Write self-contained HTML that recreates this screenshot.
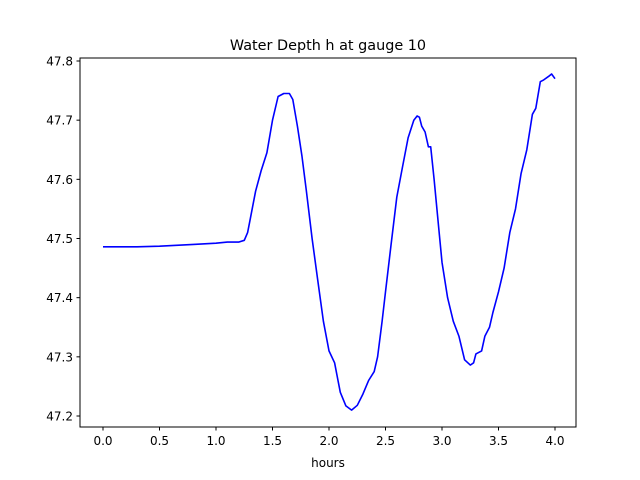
<!DOCTYPE html>
<html><head><meta charset="utf-8"><style>
body{margin:0;background:#fff;}
svg{display:block;font-family:"DejaVu Sans","Liberation Sans",sans-serif;}
</style></head><body>
<svg id="chart" width="640" height="480" viewBox="0 0 640 480" xmlns="http://www.w3.org/2000/svg">
<rect width="640" height="480" fill="#fff"/>
<text x="328" y="50" text-anchor="middle" font-size="14.4">Water Depth h at gauge 10</text>
<g id="ticks"></g>
<path id="line" fill="none" stroke="#0000ff" stroke-width="1.6" stroke-linejoin="round"/>
<rect x="80" y="58" width="496" height="369" fill="none" stroke="#000" stroke-width="1"/>
<text x="328" y="467" text-anchor="middle" font-size="12">hours</text>
</svg>
<script>
const hours = [0,0.3,0.5,0.8,1.0,1.1,1.2,1.25,1.28,1.3,1.35,1.4,1.45,1.5,1.55,1.6,1.65,1.68,1.72,1.76,1.8,1.85,1.9,1.95,2.0,2.05,2.08,2.1,2.15,2.2,2.25,2.3,2.35,2.4,2.43,2.47,2.5,2.55,2.6,2.65,2.7,2.75,2.78,2.8,2.82,2.85,2.88,2.9,2.93,2.97,3.0,3.05,3.1,3.15,3.2,3.25,3.28,3.3,3.35,3.38,3.42,3.45,3.5,3.55,3.6,3.65,3.7,3.75,3.8,3.83,3.87,3.9,3.95,3.97,4.0];
const depth = [47.486,47.486,47.487,47.49,47.492,47.494,47.494,47.497,47.51,47.53,47.58,47.615,47.645,47.7,47.74,47.745,47.745,47.735,47.69,47.64,47.58,47.5,47.43,47.36,47.31,47.29,47.26,47.24,47.217,47.21,47.218,47.237,47.26,47.275,47.3,47.36,47.41,47.49,47.57,47.62,47.67,47.7,47.707,47.705,47.69,47.68,47.655,47.655,47.6,47.52,47.46,47.4,47.36,47.335,47.295,47.286,47.29,47.305,47.31,47.335,47.35,47.375,47.41,47.45,47.51,47.55,47.61,47.65,47.71,47.72,47.765,47.768,47.775,47.778,47.77];
const xTicks = [0,0.5,1.0,1.5,2.0,2.5,3.0,3.5,4.0];
const yTicks = [47.2,47.3,47.4,47.5,47.6,47.7,47.8];
function xs(v){return 103 + (v-0)*(555-103)/4;}
function ys(v){return 416 - (v-47.2)*(416-61)/0.6;}
const NS="http://www.w3.org/2000/svg";
const g=document.getElementById('ticks');
xTicks.forEach(t=>{
  const l=document.createElementNS(NS,'line');
  
  
  l.setAttribute('x1',xs(t));l.setAttribute('x2',xs(t));l.setAttribute('y1',427);l.setAttribute('y2',430.5);l.setAttribute('stroke','#000');
  g.appendChild(l);
  const tx=document.createElementNS(NS,'text');
  
  
  tx.setAttribute('x',xs(t));tx.setAttribute('y',445);tx.setAttribute('text-anchor','middle');tx.setAttribute('font-size','12');
  tx.textContent=t.toFixed(1);g.appendChild(tx);
});
yTicks.forEach(t=>{
  const l=document.createElementNS(NS,'line');
  
  
  l.setAttribute('x1',76.5);l.setAttribute('x2',80);l.setAttribute('y1',ys(t));l.setAttribute('y2',ys(t));l.setAttribute('stroke','#000');
  g.appendChild(l);
  const tx=document.createElementNS(NS,'text');
  
  
  tx.setAttribute('x',73);tx.setAttribute('y',ys(t)+4.5);tx.setAttribute('text-anchor','end');tx.setAttribute('font-size','12');
  tx.textContent=t.toFixed(1);g.appendChild(tx);
});
document.getElementById('line').setAttribute('d',hours.map((h,i)=>(i?'L':'M')+xs(h).toFixed(1)+','+ys(depth[i]).toFixed(1)).join(''));
</script>
</body></html>
